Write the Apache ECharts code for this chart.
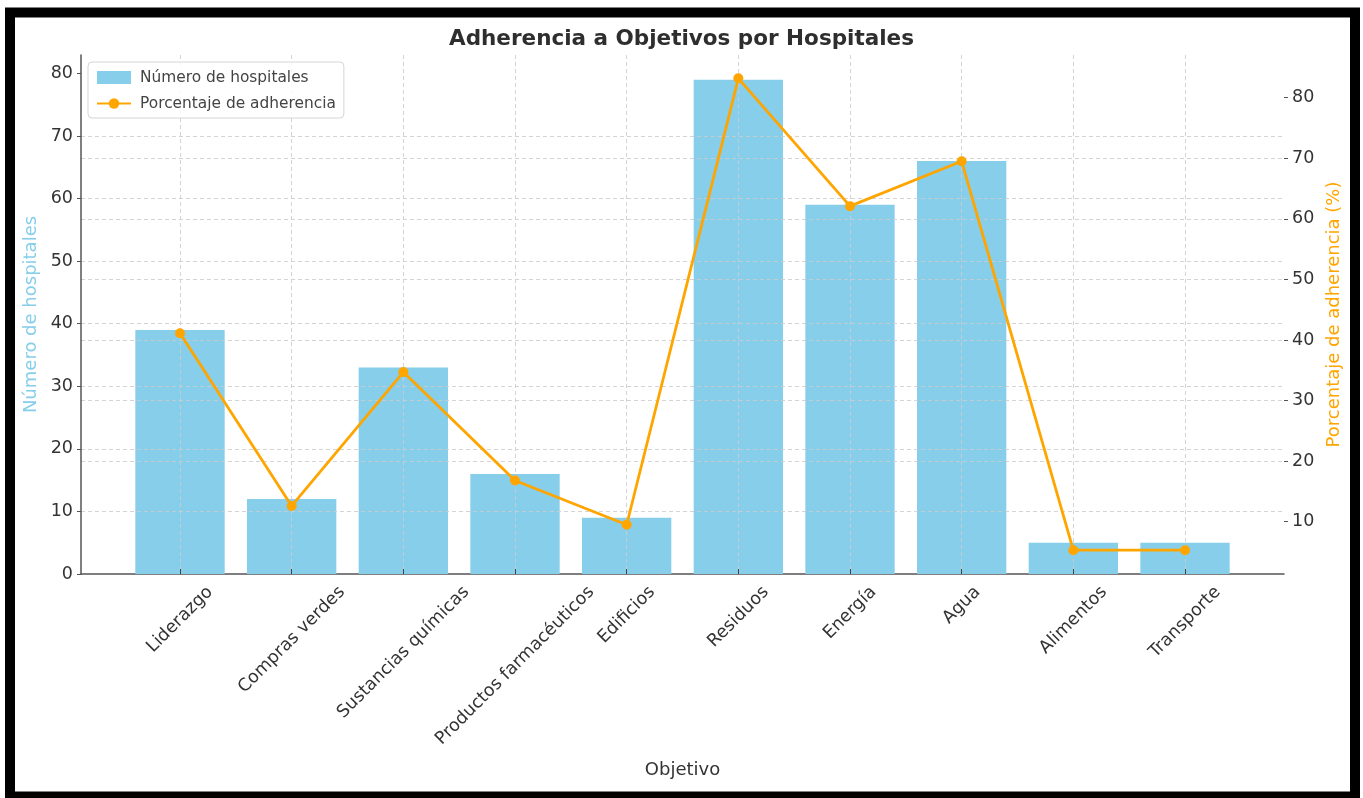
<!DOCTYPE html>
<html>
<head>
<meta charset="utf-8">
<script src="https://cdn.jsdelivr.net/npm/echarts@6/dist/echarts.min.js"></script>
<style>
html, body { margin: 0; padding: 0; background: #fff; }
#main { width: 1363px; height: 798px; }
</style>
</head>
<body>
<div id="main"></div>
<script>
// values
var categories = ['Liderazgo', 'Compras verdes', 'Sustancias químicas', 'Productos farmacéuticos',
    'Edificios', 'Residuos', 'Energía', 'Agua', 'Alimentos', 'Transporte'];
var hospitales = [39, 12, 33, 16, 9, 79, 59, 66, 5, 5];
var porcentaje = [41.1, 12.6, 34.7, 16.8, 9.5, 83.2, 62.1, 69.5, 5.3, 5.3];
var leftTicks = [0, 10, 20, 30, 40, 50, 60, 70, 80];
var rightTicks = [10, 20, 30, 40, 50, 60, 70, 80];

var font = 'DejaVu Sans';
var axisColor = '#555';
var gridLine = { color: 'rgba(205,205,205,0.85)', type: [4, 3], width: 1 };

// matplotlib centres each rotated label box under its tick: shift via padding
var ctx = document.createElement('canvas').getContext('2d');
ctx.font = '17.5px "DejaVu Sans"';
var rich = {};
categories.forEach(function (name, i) {
    var p = 0.5 * (ctx.measureText(name).width + 18);
    rich['c' + i] = { padding: [p, p, 0, 0], fontSize: 17.5, fontFamily: font, color: '#333' };
});

var myChart = echarts.init(document.getElementById('main'));
var option = {
    animation: false,
    backgroundColor: '#fff',
    title: {
        text: 'Adherencia a Objetivos por Hospitales',
        left: 'center',
        top: 23,
        textStyle: { fontFamily: font, fontSize: 21.5, fontWeight: 'bold', color: '#2e2e2e' }
    },
    legend: {
        orient: 'vertical',
        left: 88,
        top: 62,
        padding: [8, 8, 7, 8],
        itemGap: 11,
        itemWidth: 34,
        itemHeight: 13,
        backgroundColor: 'rgba(255,255,255,0.85)',
        borderColor: '#d5d5d5',
        borderWidth: 1,
        borderRadius: 4,
        z: 10,
        textStyle: { fontFamily: font, fontSize: 15.4, color: '#444', padding: [0, 0, 0, 4] },
        data: [
            { name: 'Número de hospitales', icon: 'rect' },
            { name: 'Porcentaje de adherencia' }
        ]
    },
    grid: [
        { left: 81, right: 79, top: 55, bottom: 224 },
        { left: 180, right: 178, top: 55, bottom: 224 }
    ],
    xAxis: [
        {
            gridIndex: 0,
            type: 'value',
            min: 0,
            max: 1,
            name: 'Objetivo',
            nameLocation: 'middle',
            nameGap: 187,
            nameTextStyle: { fontFamily: font, fontSize: 18, color: '#333' },
            axisLine: { show: true, onZero: false, lineStyle: { color: axisColor, width: 1.5 } },
            axisTick: { show: false },
            axisLabel: { show: false },
            splitLine: { show: false }
        },
        {
            gridIndex: 1,
            type: 'category',
            data: categories,
            boundaryGap: false,
            z: 3,
            axisLine: { show: false },
            axisTick: { show: true, inside: true, length: 5, lineStyle: { color: '#444' } },
            axisLabel: {
                interval: 0,
                rotate: 45,
                margin: 9,
                align: 'center',
                verticalAlign: 'middle',
                fontSize: 17.5,
                fontFamily: font,
                color: '#333',
                formatter: function (v, i) { return '{c' + i + '|' + v + '}'; },
                rich: rich
            },
            splitLine: { show: true, lineStyle: gridLine }
        }
    ],
    yAxis: [
        {
            gridIndex: 0,
            type: 'value',
            position: 'left',
            min: 0,
            max: 82.95,
            interval: 10,
            z: 3,
            name: 'Número de hospitales',
            nameLocation: 'middle',
            nameGap: 34,
            nameRotate: 90,
            nameTextStyle: { color: '#87CEEB', fontSize: 18, fontFamily: font },
            axisLine: { show: true, onZero: false, lineStyle: { color: axisColor, width: 1.5 } },
            axisTick: { show: true, length: 4, customValues: leftTicks, lineStyle: { color: axisColor } },
            axisLabel: {
                margin: 8, fontSize: 17.5, color: '#333', fontFamily: font,
                customValues: leftTicks,
                formatter: function (v) { return Math.abs(v % 10) < 1e-6 ? v : ''; }
            },
            splitLine: { show: true, showMinLine: false, showMaxLine: false, lineStyle: gridLine }
        },
        {
            gridIndex: 0,
            type: 'value',
            position: 'right',
            min: 1.37,
            max: 87.05,
            splitNumber: 8,
            z: 3,
            name: 'Porcentaje de adherencia (%)',
            nameLocation: 'middle',
            nameGap: 32,
            nameRotate: 90,
            nameTextStyle: { color: '#FFA500', fontSize: 18, fontFamily: font },
            axisLine: { show: false, onZero: false },
            axisTick: { show: true, length: 4, customValues: rightTicks, lineStyle: { color: axisColor } },
            axisLabel: {
                margin: 8, fontSize: 17.5, color: '#333', fontFamily: font,
                customValues: rightTicks,
                formatter: function (v) { return Math.abs(v % 10) < 1e-6 ? v : ''; }
            },
            splitLine: { show: true, showMinLine: false, showMaxLine: false, lineStyle: gridLine }
        },
        { gridIndex: 1, type: 'value', min: 0, max: 82.95, show: false },
        { gridIndex: 1, type: 'value', min: 1.37, max: 87.05, show: false }
    ],
    series: [
        {
            name: 'Número de hospitales',
            type: 'bar',
            xAxisIndex: 1,
            yAxisIndex: 2,
            data: hospitales,
            barWidth: '80%',
            clip: false,
            z: 2,
            itemStyle: { color: '#87CEEB' }
        },
        {
            name: 'Porcentaje de adherencia',
            type: 'line',
            xAxisIndex: 1,
            yAxisIndex: 3,
            data: porcentaje,
            symbol: 'circle',
            symbolSize: 10,
            clip: false,
            z: 5,
            itemStyle: { color: '#FFA500' },
            lineStyle: { color: '#FFA500', width: 2.8 }
        }
    ],
    graphic: [
        {
            type: 'rect',
            silent: true,
            z: 100,
            shape: { x: 10, y: 12.5, width: 1345, height: 784 },
            style: { fill: 'none', stroke: '#000', lineWidth: 10 }
        }
    ]
};
myChart.setOption(option);
</script>
</body>
</html>
